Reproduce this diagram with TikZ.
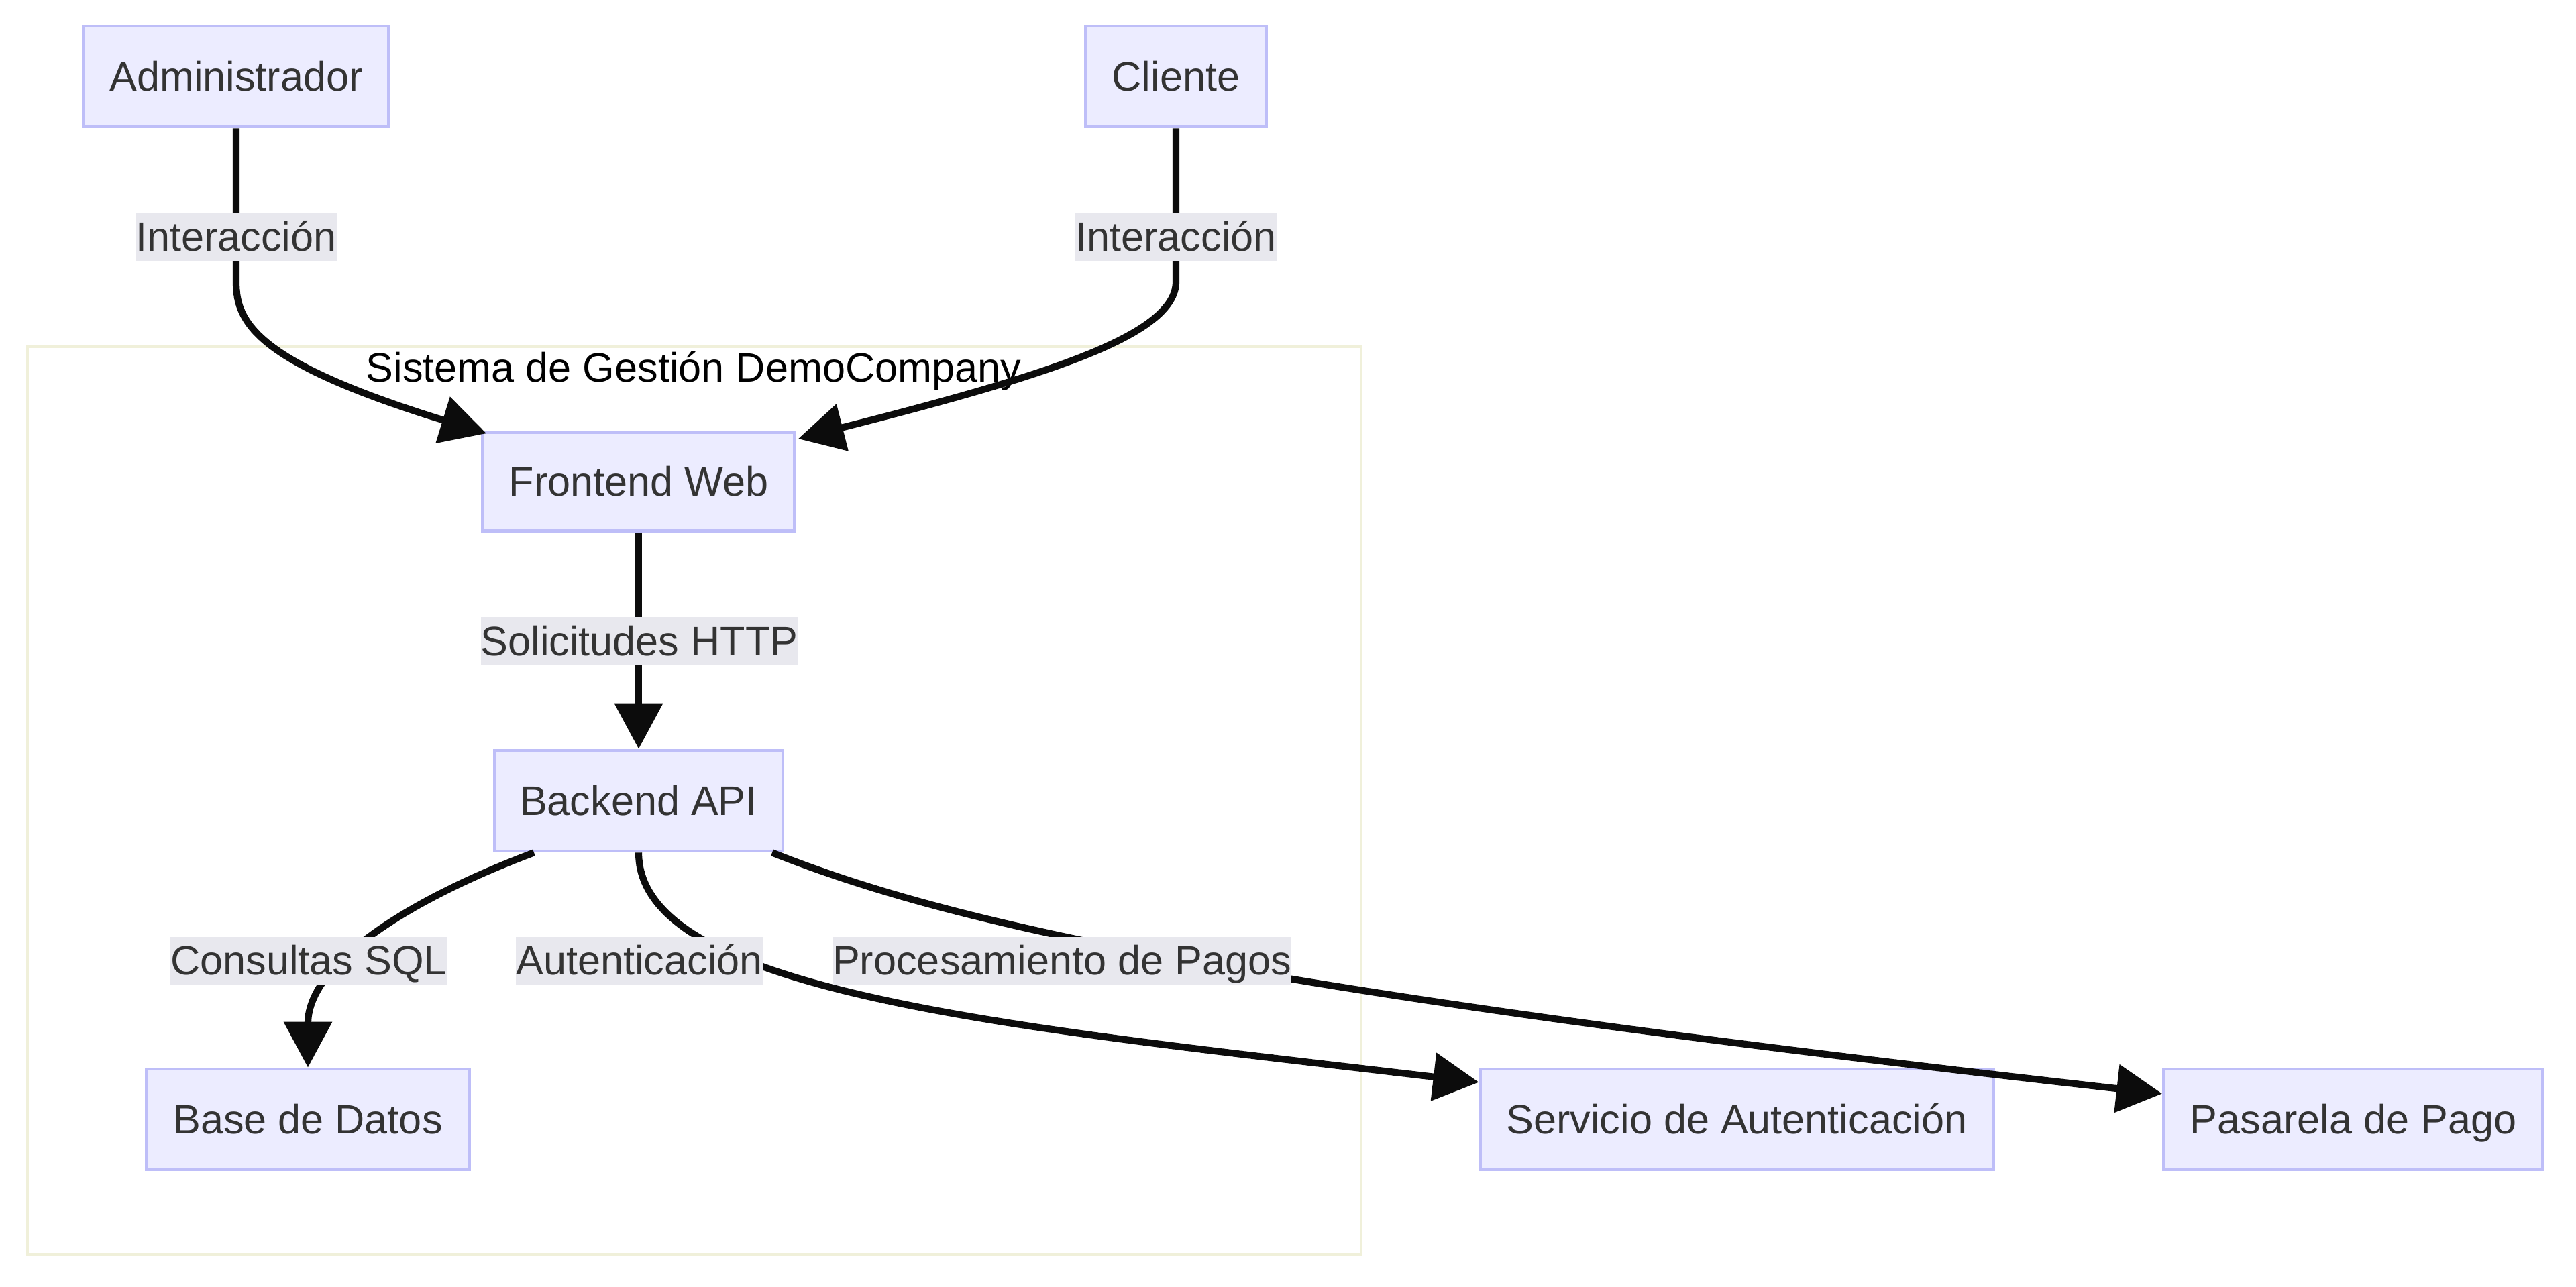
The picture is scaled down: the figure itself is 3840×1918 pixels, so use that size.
\documentclass[tikz,border=0pt]{standalone}
\usepackage{fontspec}
\setmainfont{Liberation Sans}
\usetikzlibrary{arrows.meta,calc}
\definecolor{nodefill}{HTML}{ECECFF}
\definecolor{nodeline}{RGB}{190,190,248}
\definecolor{lblfill}{RGB}{232,232,238}
\definecolor{txt}{HTML}{333333}
\definecolor{clusterline}{RGB}{240,240,218}
\begin{document}
\begin{tikzpicture}[x=0.01cm,y=-0.01cm,
  txtfont/.style={font=\fontsize{17.4pt}{20pt}\selectfont},
  box/.style={txtfont, draw=nodeline, line width=1.3pt, fill=nodefill, text=txt,
    minimum height=1.5cm, inner sep=0pt, text height=16.2pt, text depth=4pt},
  lbl/.style={txtfont, fill=lblfill, text=txt, inner sep=0pt, text height=16.2pt, text depth=4pt},
  edge/.style={line width=2.9pt, draw={rgb,255:red,12;green,12;blue,12},
    -{Triangle[length=0.68cm,width=0.7cm]}}]
\useasboundingbox (0,0) rectangle (3840,1918);

% cluster
\node[draw=clusterline, line width=1.1pt, fill=white, minimum width=19.86cm,
      minimum height=13.54cm, inner sep=0pt] (sg) at (1035,1194) {};
\node[txtfont, text=black, inner sep=0pt] (title) at (1034,553) {Sistema de Gestión DemoCompany};

% nodes
\node[box, minimum width=4.55cm] (adm) at (352,114) {Administrador};
\node[box, minimum width=2.69cm] (cli) at (1753,114) {Cliente};
\node[box, minimum width=4.65cm, minimum height=1.47cm] (fe) at (952,718) {Frontend Web};
\node[box, minimum width=4.30cm] (be) at (952,1194) {Backend API};
\node[box, minimum width=4.82cm] (db) at (459,1669) {Base de Datos};
\node[box, minimum width=7.64cm] (auth) at (2589,1669) {Servicio de Autenticación};
\node[box, minimum width=5.65cm] (pay) at (3508,1669) {Pasarela de Pago};

% edges
\draw[edge] (adm.south) -- (352,420) .. controls (352,480) and (380,540) .. ($(fe.north west)+(8,4)$);
\draw[edge] (cli.south) -- (1753,420) .. controls (1753,500) and (1560,560) .. ($(fe.north east)+(3,12)$);
\draw[edge] (fe.south) -- (be.north);
\draw[edge] ($(be.south)+(-156,0)$) .. controls (600,1345) and (459,1440) .. (db.north);
\draw[edge] (be.south) .. controls (952,1480) and (1500,1530) .. ($(auth.north west)+(0,22)$);
\draw[edge] ($(be.south)+(199,0)$) .. controls (1400,1370) and (1800,1470) .. ($(pay.north west)+(0,39)$);

% edge labels
\node[lbl] (l1) at (352,353) {Interacción};
\node[lbl] (l2) at (1753,353) {Interacción};
\node[lbl] (l3) at (953,956) {Solicitudes HTTP};
\node[lbl] (l4) at (460,1432) {Consultas SQL};
\node[lbl] (l5) at (953,1432) {Autenticación};
\node[lbl] (l6) at (1583,1432) {Procesamiento de Pagos};
\end{tikzpicture}
\end{document}
